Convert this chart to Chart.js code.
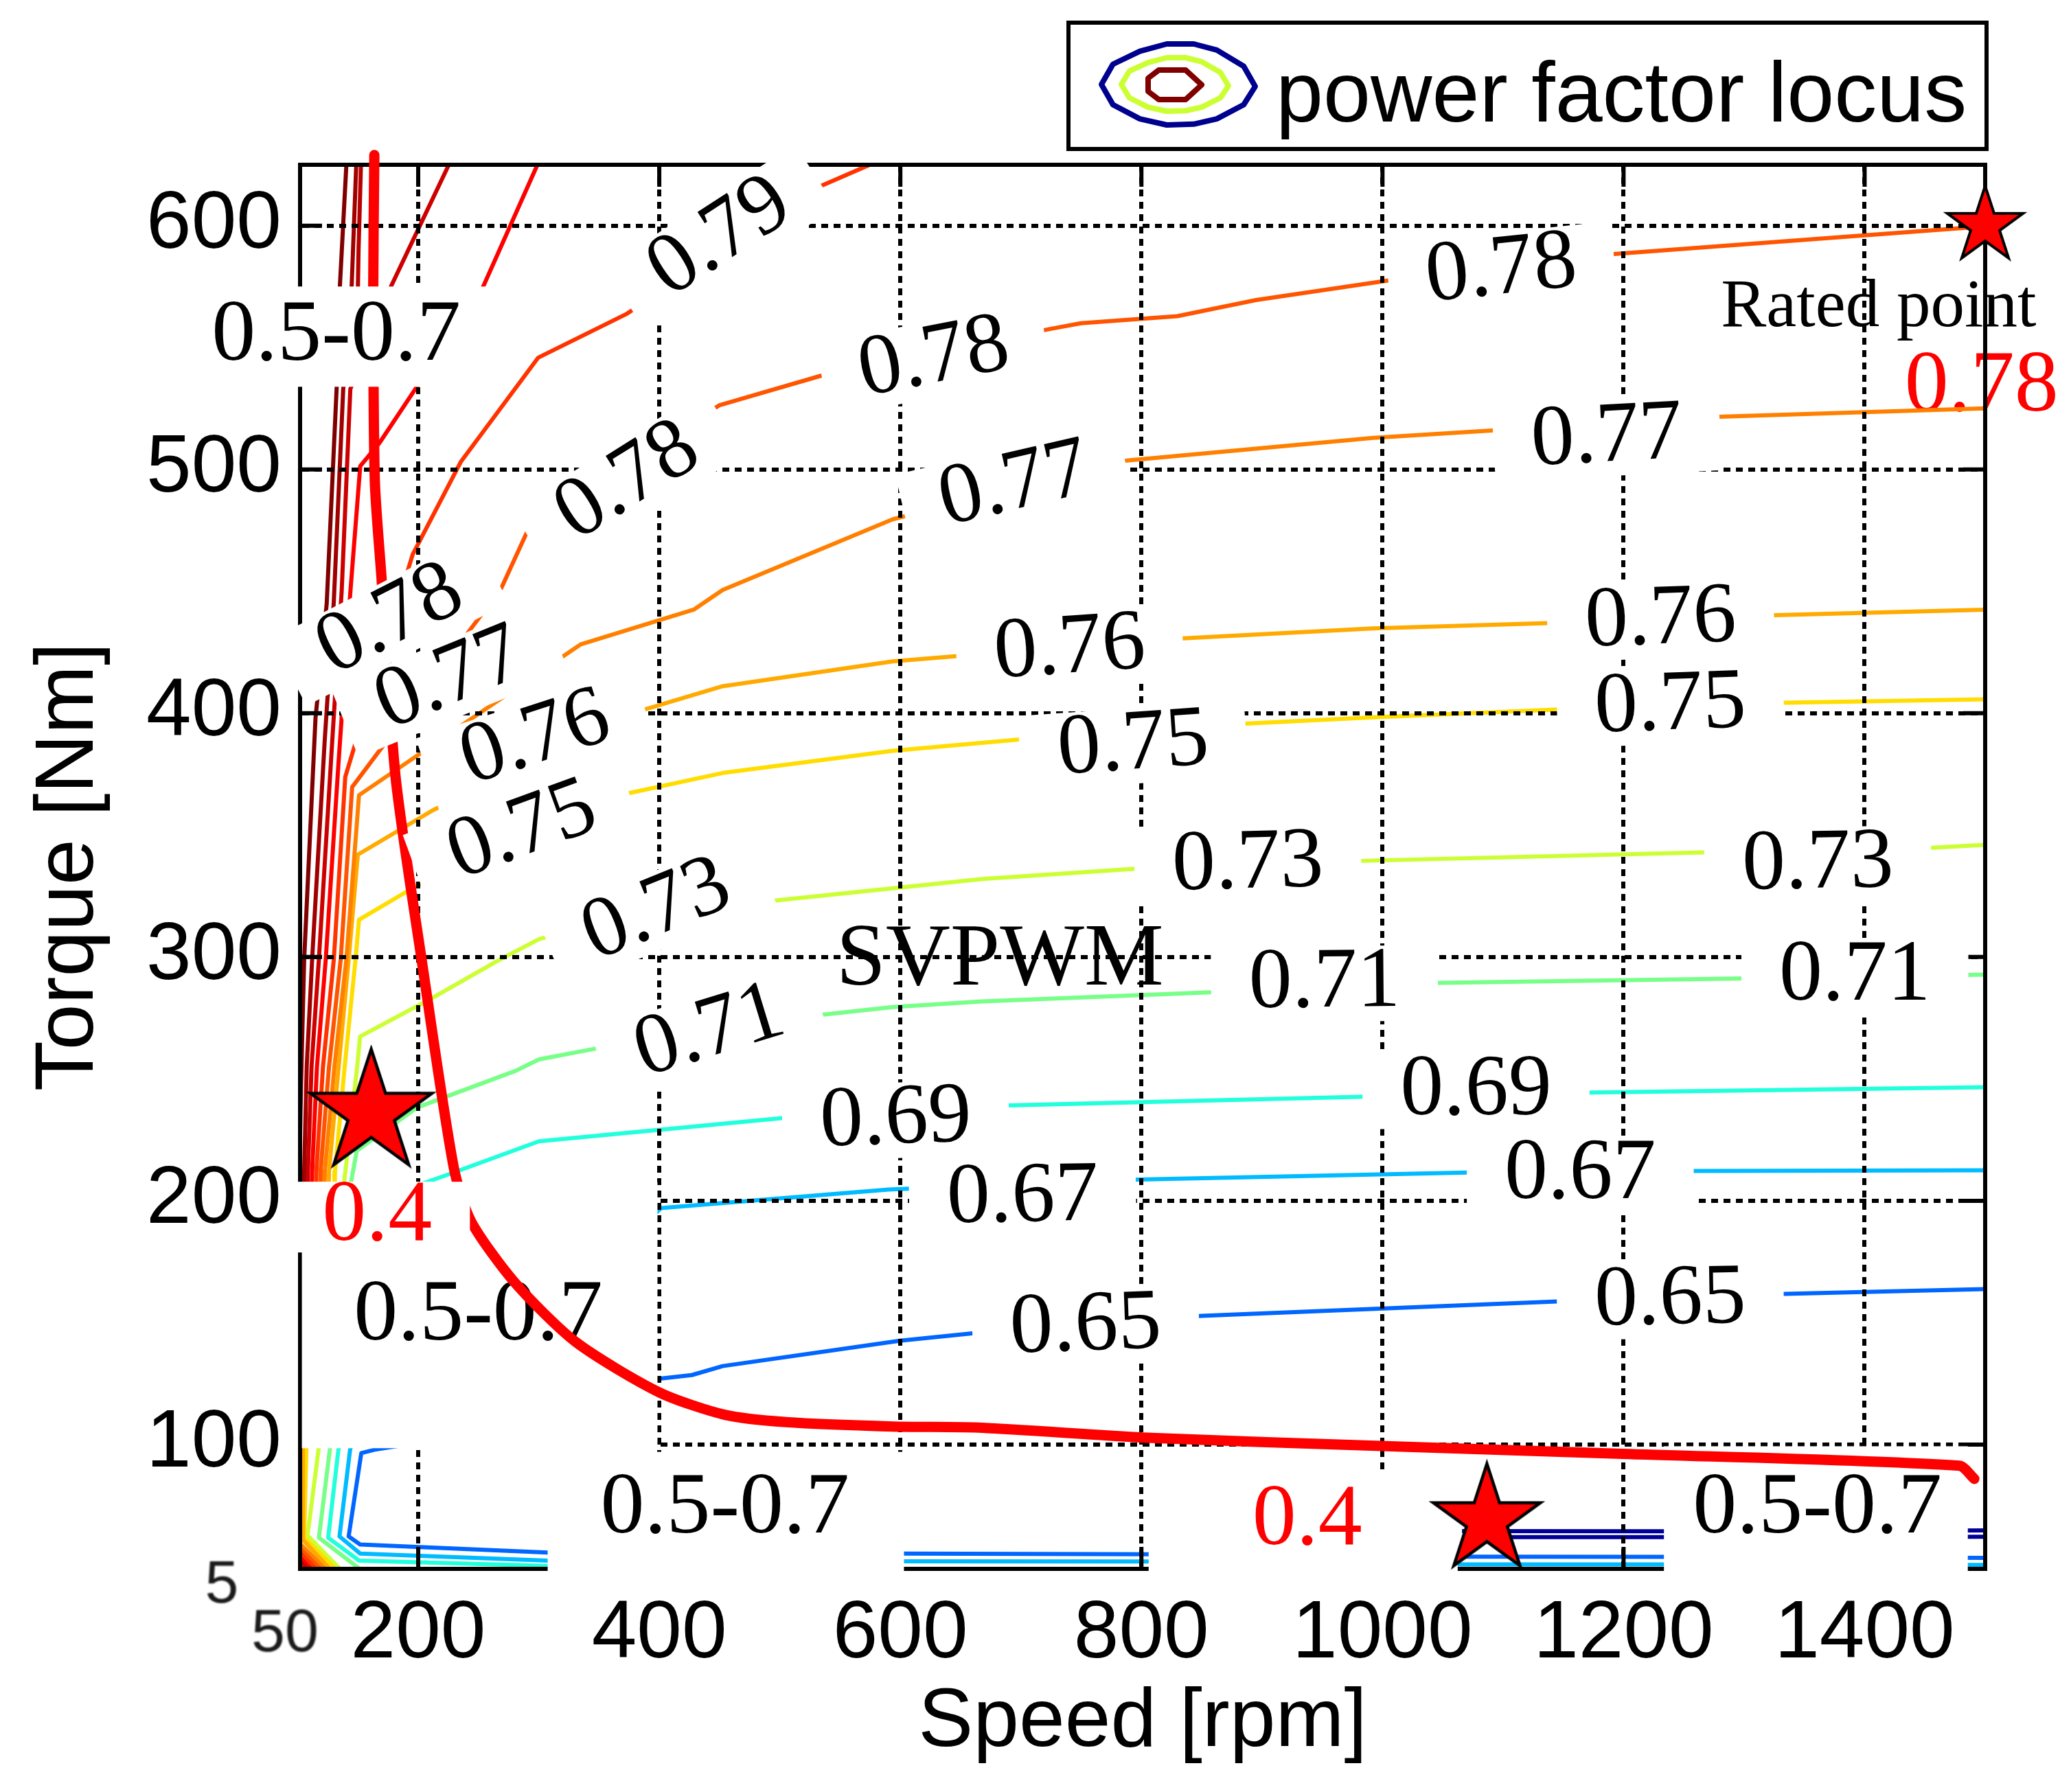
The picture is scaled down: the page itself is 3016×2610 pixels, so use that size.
<!DOCTYPE html>
<html>
<head>
<meta charset="utf-8">
<title>Power factor map</title>
<script src="https://cdn.jsdelivr.net/npm/chart.js"></script>
<style>
  html, body { margin: 0; padding: 0; background: #fff; }
  canvas { display: block; }
</style>
</head>
<body>
<canvas id="pfMap" width="3016" height="2610" style="width:3016px;height:2610px"></canvas>
<script>
// axis ranges and ticks (speed in rpm, torque in Nm)
const speedMin = 102, speedMax = 1500;
const torqueMin = 49, torqueMax = 625;
const speedTicks = [200, 400, 600, 800, 1000, 1200, 1400];
const torqueTicks = [100, 200, 300, 400, 500, 600];
const cornerTickLabels = ['5', '50'];

// iso power factor lines, [speed, torque]; null = break in the line
const pfDark1 = [[141,628],[140.4,625],[134.9,574],[132.3,533],[124.1,445],[114.8,398],[105.4,299],[103.5,262],[102.3,235],[101.5,215]];
const pfDark2 = [[149,628],[148.6,625],[144.7,574],[137.8,533],[130,446],[122.4,388.5],[112,299],[107.5,255],[105.4,212],[105,200]];
const pfDark2b = [[153,628],[152.5,625],[150.5,590],[149.5,560]];
const pfDark3 = [[228,628],[225.4,625],[176.4,574],[143.7,533],[136.5,450],[128.1,384],[117.6,299],[111.5,255],[108.5,212],[108,200],
  null,[101.5,52.3],[107.2,49.6],[109,48.7]];
const pfRed = [[301,628],[298.9,625],[253,574],[197.6,533],[168,511],[151.9,501.4],[143.7,449.6],[133.8,379],[123.3,299],[116,255],[112,212],[111.5,200],
  null,[101.5,53.9],[110,49.6],[112,48.6]];
const pf079 = [[585,628],[575,625.1],[529,615.2],[372.4,563.7],[299.6,545.9],[235.3,503.1],[195.4,465.1],[139.5,373.9],[130,299],[121,255],[115.5,212],[115,200],
  null,[101.5,55.8],[113.9,49.6],[116,48.5]];
const pf078 = [[1500,600],[1485.8,599.2],[1191.9,588.4],[1005.8,577.6],[895.1,569.5],[829.7,562.9],[749.9,560],[722.7,557.5],[535.1,538.6],[450.1,526.4],
  [292.2,476.4],[268.9,451.3],[145.2,369.7],[135.7,299],[126,255],[119,212],[118.5,200],
  null,[101.5,57.6],[117.6,49.6],[120,48.4]];
const pf077 = [[1500,525.1],[1279,521.6],[1093,516.1],[992.2,513],[787.9,503.7],[593.8,479.6],[452.6,450.6],[429,442.6],[334.6,428.2],
  [150.9,366.4],[140.4,299],[130.5,255],[122.5,212],[122,200],
  null,[101.5,59.5],[121.5,49.6],[124,48.3]];
const pf076 = [[1500,442.5],[1325.4,440.2],[1138,437],[992.2,434.8],[834.5,430.7],[647.5,423.5],[593.8,421.3],[452.6,411.1],[385.4,401.2],
  [212.5,360.3],[149.9,342],[142.3,299],[134,255],[126,212],[125.5,200],[106,110],[104.4,97.9],[104.4,60.9],[125.3,49.6],[129,47.5]];
const pf075 = [[1500,405.7],[1334.1,404.3],[1146.4,401.6],[992.2,398.3],[888.6,395.8],[700.8,389.3],[593.8,384.6],[452.6,375.5],[372.7,367],
  [199.3,329.4],[150.9,315.3],[148,299],[139,255],[131,212],[130.5,200],[109,110],[107.2,97.9],[105.4,61.8],[129,50.1],[133,48]];
const pf073 = [[1500,346],[1458,344.9],[1288,343.2],[987,339.5],[795.3,336.2],[667.8,332],[492.5,323],[331,311.4],[300.2,307.3],[265.6,298.4],
  [210.6,282.9],[151.8,267.4],[149,253.3],[138.5,207.3],[137.5,200],[119,110],[117.3,97.9],[108.2,62.7],[132.8,50.1],[140,47]];
const pf071 = [[1500,292.8],[1302.4,291.2],[1047.4,289.4],[861.3,285.6],[668,281.8],[593.8,279.5],[536,276.4],[349.1,262.6],[300.2,258],[280.8,253.3],
  [199.3,238.3],[149,220.5],[144.2,207.3],[143,200],[128,110],[126.7,97.9],[117.6,61.8],[149.9,49.6],[160,47]];
const pf069 = [[1500,246.6],[1172.6,244.4],[985.8,242.7],[690,239.1],[503.3,234],[300.2,224.4],[223.9,210.6],[204.9,207.3],[180,195],[140,110],
  [133.8,97.9],[125.3,61.8],[150.9,52.4],[288.4,50.5],[450,48]];
const pf067 = [[1500,212.5],[1259,212.2],[1071,211.6],[777,208.5],[590.4,204.6],[401.5,197],[300,150],[150,108],[143.5,97.9],[134.7,62.3],
  [151.8,55.3],[307.4,52.4],[603,52.1],[810,52],[1065,50.8],[1233,50.8],[1500,50.6]];
const pf065 = [[1500,163.8],[1333.7,161.8],[1145.3,158.7],[850,152.8],[661,145.7],[599.5,142.6],[452.7,132.2],[427,128.5],[401.5,127.1],[300,112],
  [230,103],[164.1,97.9],[152.8,96.5],[142.3,62.3],[151.8,59],[307.4,55.7],[603,55.3],[810,55],[1065,54],[1233,53.9],[1500,53.5]];
const pfLowA = [[1066,64.5],[1240,64.4],[1400,64.6],[1500,64.8]];
const pfLowB = [[1066,62],[1240,62],[1400,62.1],[1500,62.2]];

// power factor locus (thick red curve)
const locusSpeed  = [163.6, 162.7, 164, 169.5, 181.2, 203, 229.4, 243.8, 280.2, 330.9, 400, 454.4, 505.2, 593.8, 667.8, 800.7, 998.5, 1199, 1478.6, 1491];
const locusTorque = [629, 574, 495.5, 456, 374, 298.4, 213.9, 191.6, 166.4, 142, 121.4, 112.2, 109.2, 107.4, 106.9, 102.9, 99.4, 96.2, 91.3, 85.9];

// operating points marked with stars
const markerSpeed  = [161, 1086.6, 1500];
const markerTorque = [236, 69, 600];

// contour level labels: text, speed, torque, rotation (deg)
const levelLabels = [
  ['0.79', 450.6, 595.1, -33], ['0.78', 1098.6, 581.6, -6], ['0.78', 627.9, 545.3, -11],
  ['0.78', 374, 494.9, -32], ['0.78', 176.9, 438, -27], ['0.77', 1186.2, 512.8, -3],
  ['0.77', 694.6, 493.3, -13], ['0.77', 226.2, 413.7, -22], ['0.76', 1230.8, 438, -2],
  ['0.76', 740.5, 426.1, -4], ['0.76', 297.3, 389.3, -18], ['0.75', 1238.8, 402.8, -2],
  ['0.75', 793.2, 386.6, -4], ['0.75', 286.4, 351.4, -20], ['0.73', 1361.2, 337.8, -1],
  ['0.73', 888.3, 337.8, -1.5], ['0.73', 398, 318.9, -22], ['0.71', 1391.9, 291.7, 0],
  ['0.71', 951.9, 289, -0.5], ['0.71', 441.8, 269, -17], ['0.69', 1077.6, 244.9, 0],
  ['0.69', 596.2, 233, -2], ['0.67', 1164.1, 210.3, 0], ['0.67', 701.4, 201, -1],
  ['0.65', 1238.8, 159, -1], ['0.65', 753.8, 148.2, -2]
];
// hand placed notes: text, speed, torque, colour (+ box height for boxed ones)
const boxedNotes = [['0.5-0.7', 132, 554.5, '#000000', 146], ['0.4', 166, 193.3, '#ff0000', 103]];
const plainNotes = [['0.5-0.7', 249.8, 152.5, '#000000'], ['0.5-0.7', 454.5, 73.5, '#000000'],
  ['0.5-0.7', 1360.8, 73.5, '#000000'], ['0.4', 937.6, 68.6, '#ff0000'], ['SVPWM', 682.6, 298.4, '#000000']];
const ratedNote = ['Rated point', 1280.8, 558.7];
const ratedValue = ['0.78', 1497, 533.5];
// white patches of the original figure: speed from/to, torque from/to
const whiteMasks = [[103.5, 398.5, 98.5, 207.7], [307.4, 603, 47, 97], [806, 1062.4, 47, 87.7], [1233.5, 1485.6, 47, 99.3]];

const SANS = '"Liberation Sans", Arial, sans-serif';
const SERIF = '"Liberation Serif", "Times New Roman", serif';

function toXY(pts) {
  return pts.map((p, i) => p ? { x: p[0], y: p[1] } : { x: pts[i - 1][0], y: null });
}

function makeStar(r, lw) {
  const c = document.createElement('canvas');
  const s = Math.ceil(2 * r + 2 * lw + 4);
  c.width = s; c.height = s;
  const g = c.getContext('2d');
  g.beginPath();
  for (let i = 0; i < 10; i++) {
    const rr = i % 2 === 0 ? r : r * 0.382;
    const a = -Math.PI / 2 + i * Math.PI / 5;
    g.lineTo(s / 2 + rr * Math.cos(a), s / 2 + rr * Math.sin(a));
  }
  g.closePath();
  g.fillStyle = '#ff0000';
  g.fill();
  g.lineWidth = lw;
  g.strokeStyle = '#000';
  g.stroke();
  return c;
}

const contourLines = [
  [pfDark1, '#800000'], [pfDark2, '#a00000'], [pfDark2b, '#b80000'], [pfDark3, '#cc0000'], [pfRed, '#ff0000'],
  [pf079, '#ff3300'], [pf078, '#ff5500'], [pf077, '#ff8000'], [pf076, '#ffaa00'], [pf075, '#ffdd00'],
  [pf073, '#ccff33'], [pf071, '#77ff88'], [pf069, '#22ffdd'], [pf067, '#00bbff'], [pf065, '#0066ff'],
  [pfLowA, '#000099'], [pfLowB, '#000099']
];

const datasets = [
  {
    label: 'markers',
    data: markerSpeed.map((s, i) => ({ x: s, y: markerTorque[i] })),
    showLine: false,
    pointStyle: [makeStar(93, 4.5), makeStar(82, 4.5), makeStar(58, 4)],
    pointRadius: 10,
    clip: false,
    order: 0
  },
  {
    label: 'locus',
    data: locusSpeed.map((s, i) => ({ x: s, y: locusTorque[i] })),
    showLine: true,
    borderColor: '#ff0000',
    borderWidth: 15,
    pointRadius: 0,
    tension: 0.25,
    borderCapStyle: 'round',
    borderJoinStyle: 'round',
    clip: false,
    order: 1
  },
  ...contourLines.map(([pts, color]) => ({
    label: 'pf',
    data: toXY(pts),
    showLine: true,
    borderColor: color,
    borderWidth: 6,
    borderJoinStyle: 'round',
    pointRadius: 0,
    tension: 0,
    order: 2
  }))
];

function px(chart, s, t) {
  return [chart.scales.x.getPixelForValue(s), chart.scales.y.getPixelForValue(t)];
}

function drawLabel(ctx, text, x, y, angle, font, color, box) {
  ctx.save();
  ctx.translate(x, y);
  ctx.rotate(angle * Math.PI / 180);
  ctx.font = font;
  if (box) {
    const w = ctx.measureText(text).width + 110;
    ctx.fillStyle = '#fff';
    ctx.fillRect(-w / 2, -box / 2, w, box);
  }
  ctx.fillStyle = color;
  ctx.textAlign = 'center';
  ctx.textBaseline = 'middle';
  ctx.fillText(text, 0, 0);
  ctx.restore();
}

function drawFrame(chart) {
  const { ctx, chartArea: a } = chart;
  ctx.save();
  ctx.strokeStyle = '#000';
  ctx.lineWidth = 6;
  ctx.lineCap = 'square';
  ctx.beginPath();
  ctx.moveTo(a.left, a.top);
  ctx.lineTo(a.right, a.top);
  ctx.lineTo(a.right, a.bottom);
  ctx.stroke();
  ctx.lineCap = 'butt';
  ctx.beginPath();
  speedTicks.forEach(v => {
    const x = chart.scales.x.getPixelForValue(v);
    ctx.moveTo(x, a.bottom); ctx.lineTo(x, a.bottom - 32);
    ctx.moveTo(x, a.top); ctx.lineTo(x, a.top + 32);
  });
  torqueTicks.forEach(v => {
    const y = chart.scales.y.getPixelForValue(v);
    ctx.moveTo(a.left, y); ctx.lineTo(a.left + 32, y);
    ctx.moveTo(a.right, y); ctx.lineTo(a.right - 32, y);
  });
  ctx.stroke();
  ctx.restore();
}

function drawMasks(chart) {
  const ctx = chart.ctx;
  ctx.save();
  ctx.fillStyle = '#fff';
  whiteMasks.forEach(([s0, s1, t0, t1]) => {
    const [x0, y0] = px(chart, s0, t0);
    const [x1, y1] = px(chart, s1, t1);
    ctx.fillRect(x0, y1, x1 - x0, y0 - y1);
  });
  ctx.restore();
}

const overlayPlugin = {
  id: 'pfOverlay',
  beforeDatasetsDraw(chart) {
    const ctx = chart.ctx;
    ctx.save();
    let [x, y] = px(chart, ratedNote[1], ratedNote[2]);
    ctx.font = '99px ' + SERIF;
    ctx.fillStyle = '#000';
    ctx.textAlign = 'left';
    ctx.textBaseline = 'alphabetic';
    ctx.fillText(ratedNote[0], x, y);
    ctx.restore();
    [x, y] = px(chart, ratedValue[1], ratedValue[2]);
    drawLabel(ctx, ratedValue[0], x, y, 0, '128px ' + SERIF, '#ff0000', 0);
  },
  beforeDatasetDraw(chart, args) {
    const name = chart.data.datasets[args.index].label;
    const ctx = chart.ctx;
    if (name === 'locus') {
      // grid and axes sit above the contour lines but below the labels
      chart.scales.x.drawGrid(chart.chartArea);
      chart.scales.y.drawGrid(chart.chartArea);
      chart.scales.x.drawBorder();
      chart.scales.y.drawBorder();
      drawFrame(chart);
      drawMasks(chart);
      plainNotes.forEach(([text, s, t, color]) => {
        const [x, y] = px(chart, s, t);
        drawLabel(ctx, text, x, y, 0, (text === 'SVPWM' ? '130px ' : '128px ') + SERIF, color, 0);
      });
    } else if (name === 'markers') {
      levelLabels.forEach(([text, s, t, ang]) => {
        const [x, y] = px(chart, s, t);
        drawLabel(ctx, text, x, y, ang, '126px ' + SERIF, '#000', 110);
      });
      boxedNotes.forEach(([text, s, t, color, h]) => {
        const [x, y] = px(chart, s, t);
        drawLabel(ctx, text, x, y, 0, '128px ' + SERIF, color, h);
      });
    }
  },
  afterDraw(chart) {
    const { ctx, chartArea: a } = chart;
    // corner tick labels
    ctx.save();
    ctx.font = '88px ' + SANS;
    ctx.fillStyle = '#1a1a1a';
    ctx.filter = 'blur(1px)';
    ctx.textAlign = 'center';
    ctx.textBaseline = 'middle';
    ctx.fillText(cornerTickLabels[0], a.left - 114, a.bottom + 25);
    ctx.fillText(cornerTickLabels[1], a.left - 22, a.bottom + 96);
    ctx.restore();

    // legend
    ctx.save();
    ctx.fillStyle = '#fff';
    ctx.fillRect(1556, 33, 1337, 184);
    ctx.lineWidth = 6;
    ctx.strokeStyle = '#000';
    ctx.strokeRect(1556, 33, 1337, 184);
    const blob = [[-0.15,-1],[0.2,-1],[0.5,-0.85],[0.85,-0.45],[1,0.05],[0.85,0.5],[0.5,0.85],[0.2,0.98],[-0.15,1],[-0.5,0.85],[-0.85,0.5],[-1,0],[-0.85,-0.5],[-0.5,-0.82]];
    const hexa = [[-0.6,-1],[0.4,-1],[1,0],[0.4,1],[-0.6,1],[-1,0.45],[-1,-0.45]];
    const rings = [[blob, 1716, 123, 112, 59, '#00008f'], [blob, 1711, 123, 78, 39, '#ccff33'], [hexa, 1711, 123.5, 39, 21.5, '#800000']];
    ctx.lineWidth = 8;
    ctx.lineJoin = 'round';
    rings.forEach(([shape, cx, cy, rx, ry, color]) => {
      ctx.beginPath();
      shape.forEach(([u, v]) => ctx.lineTo(cx + u * rx, cy + v * ry));
      ctx.closePath();
      ctx.strokeStyle = color;
      ctx.stroke();
    });
    ctx.font = '124px ' + SANS;
    ctx.fillStyle = '#000';
    ctx.textAlign = 'left';
    ctx.textBaseline = 'alphabetic';
    ctx.fillText('power factor locus', 1858, 177);
    ctx.restore();
  }
};

new Chart(document.getElementById('pfMap'), {
  type: 'scatter',
  data: { datasets },
  options: {
    responsive: false,
    animation: false,
    events: [],
    devicePixelRatio: 1,
    layout: { padding: { left: 0, right: 125, top: 240, bottom: 0 } },
    plugins: { legend: { display: false }, tooltip: { enabled: false } },
    scales: {
      x: {
        type: 'linear',
        min: speedMin,
        max: speedMax,
        afterBuildTicks: s => { s.ticks = speedTicks.map(v => ({ value: v })); },
        afterFit: s => { s.height = 325; },
        grid: { color: '#000', lineWidth: 6, drawTicks: false },
        border: { display: true, color: '#000', width: 6, dash: [10, 8] },
        ticks: { color: '#000', font: { family: SANS, size: 118 }, padding: 26, maxRotation: 0, autoSkip: false, callback: v => String(v) },
        title: { display: true, text: 'Speed [rpm]', color: '#000', font: { family: SANS, size: 120 }, padding: { top: 0, bottom: 28 } }
      },
      y: {
        type: 'linear',
        min: torqueMin,
        max: torqueMax,
        afterBuildTicks: s => { s.ticks = torqueTicks.map(v => ({ value: v })); },
        afterFit: s => { s.width = 437; },
        grid: { color: '#000', lineWidth: 6, drawTicks: false },
        border: { display: true, color: '#000', width: 6, dash: [10, 8] },
        ticks: { color: '#000', font: { family: SANS, size: 118 }, padding: 27, autoSkip: false, callback: v => String(v) },
        title: { display: true, text: 'Torque [Nm]', color: '#000', font: { family: SANS, size: 120 }, padding: { top: 30, bottom: 0 } }
      }
    }
  },
  plugins: [overlayPlugin]
});
</script>
</body>
</html>
